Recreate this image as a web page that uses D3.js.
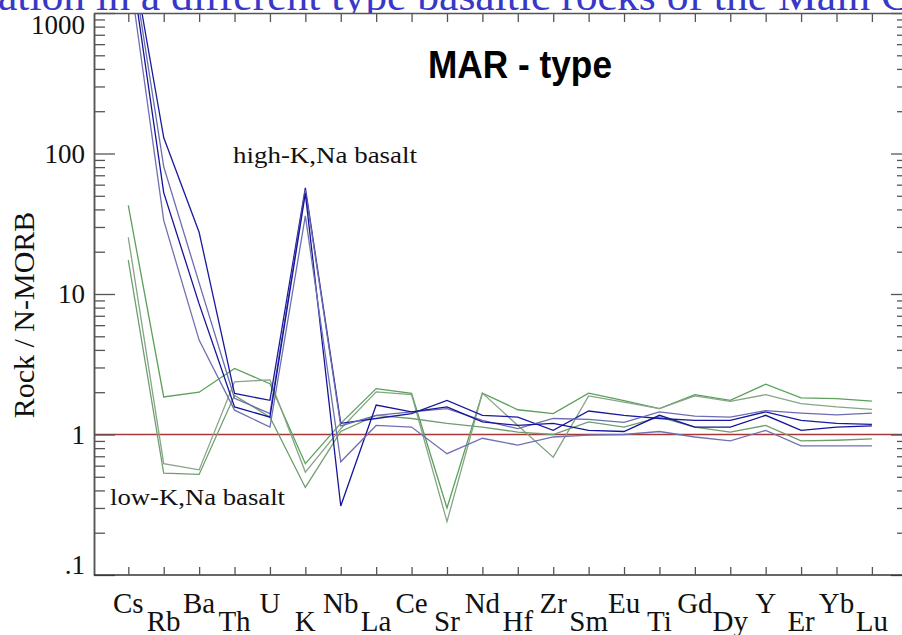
<!DOCTYPE html>
<html><head><meta charset="utf-8">
<script src="https://cdn.jsdelivr.net/npm/d3@7"></script>
<style>body{margin:0;background:#fff;} svg{display:block;}</style>
</head><body>
<svg id="chart" width="902" height="635"></svg>
<script>
// ---- data ----
const elements = ["Cs","Rb","Ba","Th","U","K","Nb","La","Ce","Sr","Nd","Hf","Zr","Sm","Eu","Ti","Gd","Dy","Y","Er","Yb","Lu"];
const yMajorTicks = [0.1, 1, 10, 100, 1000];
const yMajorLabels = [".1", "1", "10", "100", "1000"];
const referenceLevel = 1;

// high-K,Na basalt (blue)
const highK1 = [3600, 130, 27.5, 1.96, 1.75, 57, 1.20, 1.30, 1.41, 1.75, 1.37, 1.33, 1.07, 1.47, 1.37, 1.30, 1.26, 1.26, 1.45, 1.26, 1.20, 1.18];
const highK2 = [3400, 80.7, 12, 1.81, 1.41, 55, 1.15, 1.37, 1.45, 1.53, 1.26, 1.10, 1.30, 1.28, 1.22, 1.45, 1.35, 1.33, 1.48, 1.42, 1.38, 1.42];
const highK3 = [3000, 52.7, 8.5, 1.57, 1.33, 52, 0.31, 1.62, 1.45, 1.57, 1.23, 1.16, 1.20, 1.07, 1.05, 1.37, 1.13, 1.13, 1.37, 1.07, 1.13, 1.15];
const highK4 = [2200, 33.4, 4.7, 1.49, 1.13, 36, 0.64, 1.16, 1.13, 0.73, 0.94, 0.84, 0.96, 0.99, 1.00, 1.05, 0.96, 0.90, 1.07, 0.83, 0.83, 0.83];

// low-K,Na basalt (green)
const lowK1 = [42.7, 1.85, 2.0, 2.95, 2.3, 0.62, 1.20, 2.12, 1.96, 0.30, 1.97, 1.50, 1.41, 1.97, 1.74, 1.53, 1.92, 1.75, 2.28, 1.82, 1.80, 1.73];
const lowK2 = [25.3, 0.62, 0.56, 2.37, 2.45, 0.54, 1.10, 2.01, 1.92, 0.24, 1.97, 1.16, 0.69, 1.88, 1.70, 1.53, 1.88, 1.72, 1.92, 1.66, 1.57, 1.51];
const lowK3 = [17.4, 0.53, 0.52, 1.90, 1.33, 0.42, 1.05, 1.37, 1.30, 1.20, 1.13, 1.04, 1.00, 1.23, 1.13, 1.33, 1.13, 1.04, 1.16, 0.90, 0.91, 0.93];

const blueSeries = [highK1, highK2, highK3, highK4];
const greenSeries = [lowK1, lowK2, lowK3];
const blueColors = ["#1a1aa0", "#6c6cb0", "#14149a", "#7070b4"];
const greenColors = ["#5aa05a", "#86a486", "#6e9e6e"];

// ---- layout ----
const svg = d3.select("#chart");
const plotLeft = 94, plotRight = 907, plotTop = 13, plotBottom = 575;

const x = d3.scalePoint().domain(elements).range([128.3, 871.9]);
const y = d3.scaleLog().domain([0.1, 1000]).range([plotBottom, plotTop]);

// minor tick values
const minorTicks = [];
[0.1, 1, 10, 100].forEach(d => { for (let k = 2; k <= 9; k++) minorTicks.push(+(k * d).toPrecision(3)); });

const axisColor = "#555";

// clip
svg.append("defs").append("clipPath").attr("id", "plotclip")
  .append("rect").attr("x", plotLeft).attr("y", plotTop).attr("width", plotRight - plotLeft).attr("height", plotBottom - plotTop);

// title (partially visible)
svg.append("text")
  .attr("x", -2).attr("y", 10)
  .attr("font-family", "Liberation Serif, serif")
  .attr("font-size", 42)
  .attr("fill", "#3838c8")
  .attr("textLength", 912).attr("lengthAdjust", "spacingAndGlyphs")
  .text("ation  in a different type basaltic rocks of the Main C");

// white plot background covers title descenders below the frame
svg.append("rect").attr("x", plotLeft).attr("y", plotTop).attr("width", plotRight - plotLeft).attr("height", plotBottom - plotTop).attr("fill", "#fff");

// reference line
svg.append("line")
  .attr("x1", plotLeft).attr("x2", plotRight)
  .attr("y1", y(referenceLevel)).attr("y2", y(referenceLevel))
  .attr("stroke", "#a83838").attr("stroke-width", 1.3);

// lines
const line = d3.line().x((d, i) => x(elements[i])).y(d => y(d));
const g = svg.append("g").attr("clip-path", "url(#plotclip)");
greenSeries.forEach((s, i) => {
  g.append("path").attr("d", line(s)).attr("fill", "none")
    .attr("stroke", greenColors[i]).attr("stroke-width", 1.3);
});
blueSeries.forEach((s, i) => {
  g.append("path").attr("d", line(s)).attr("fill", "none")
    .attr("stroke", blueColors[i]).attr("stroke-width", 1.3);
});

// axes
function styleAxis(sel) {
  sel.selectAll("path").attr("stroke", axisColor).attr("stroke-width", 1.5);
  sel.selectAll("line").attr("stroke", axisColor).attr("stroke-width", 1.3);
  sel.selectAll("text").remove();
}
// left
svg.append("g").attr("transform", `translate(${plotLeft},0)`)
  .call(d3.axisRight(y).tickValues(minorTicks).tickSize(11).tickSizeOuter(0).tickFormat(""))
  .call(styleAxis);
svg.append("g").attr("transform", `translate(${plotLeft},0)`)
  .call(d3.axisRight(y).tickValues(yMajorTicks).tickSize(21).tickSizeOuter(0).tickFormat(""))
  .call(styleAxis);
// right
svg.append("g").attr("transform", `translate(${plotRight},0)`)
  .call(d3.axisLeft(y).tickValues(minorTicks).tickSize(10).tickSizeOuter(0).tickFormat(""))
  .call(styleAxis);
svg.append("g").attr("transform", `translate(${plotRight},0)`)
  .call(d3.axisLeft(y).tickValues(yMajorTicks).tickSize(16).tickSizeOuter(0).tickFormat(""))
  .call(styleAxis);
// top
svg.append("g").attr("transform", `translate(0,${plotTop})`)
  .call(d3.axisBottom(x).tickSize(9).tickSizeOuter(0).tickFormat(""))
  .call(styleAxis)
  .select(".domain").attr("d", `M${plotLeft},0.5H${plotRight}`);
// bottom
svg.append("g").attr("transform", `translate(0,${plotBottom})`)
  .call(d3.axisTop(x).tickSize(8).tickSizeOuter(0).tickFormat(""))
  .call(styleAxis)
  .select(".domain").attr("d", `M${plotLeft},0H${plotRight}`).attr("stroke", "#333");

// y tick labels
svg.append("g").selectAll("text").data(yMajorTicks).join("text")
  .attr("x", 85)
  .attr("y", d => Math.min(Math.max(y(d), 25), 565))
  .attr("dy", "0.35em")
  .attr("text-anchor", "end")
  .attr("font-family", "Liberation Serif, serif")
  .attr("font-size", 27)
  .attr("fill", "#111")
  .text((d, i) => yMajorLabels[i]);

// x tick labels (staggered)
svg.append("g").selectAll("text").data(elements).join("text")
  .attr("x", d => x(d))
  .attr("y", (d, i) => i % 2 === 0 ? 613 : 631)
  .attr("text-anchor", "middle")
  .attr("font-family", "Liberation Serif, serif")
  .attr("font-size", 29)
  .attr("fill", "#111")
  .text(d => d);

// y axis title
svg.append("text")
  .attr("transform", "translate(34,315) rotate(-90)")
  .attr("text-anchor", "middle")
  .attr("font-family", "Liberation Serif, serif")
  .attr("font-size", 30)
  .attr("fill", "#111")
  .text("Rock / N-MORB");

// chart subtitle
svg.append("text")
  .attr("x", 428).attr("y", 78)
  .attr("font-family", "Liberation Sans, Arial, sans-serif")
  .attr("font-weight", "bold")
  .attr("font-size", 38)
  .attr("textLength", 184).attr("lengthAdjust", "spacingAndGlyphs")
  .attr("fill", "#000")
  .text("MAR - type");

// group annotations
svg.append("text")
  .attr("x", 233).attr("y", 163)
  .attr("font-family", "Liberation Serif, serif")
  .attr("font-size", 24)
  .attr("textLength", 184).attr("lengthAdjust", "spacingAndGlyphs")
  .attr("fill", "#111")
  .text("high-K,Na basalt");
svg.append("text")
  .attr("x", 110).attr("y", 505)
  .attr("font-family", "Liberation Serif, serif")
  .attr("font-size", 24)
  .attr("textLength", 175).attr("lengthAdjust", "spacingAndGlyphs")
  .attr("fill", "#111")
  .text("low-K,Na basalt");
</script>
</body></html>
